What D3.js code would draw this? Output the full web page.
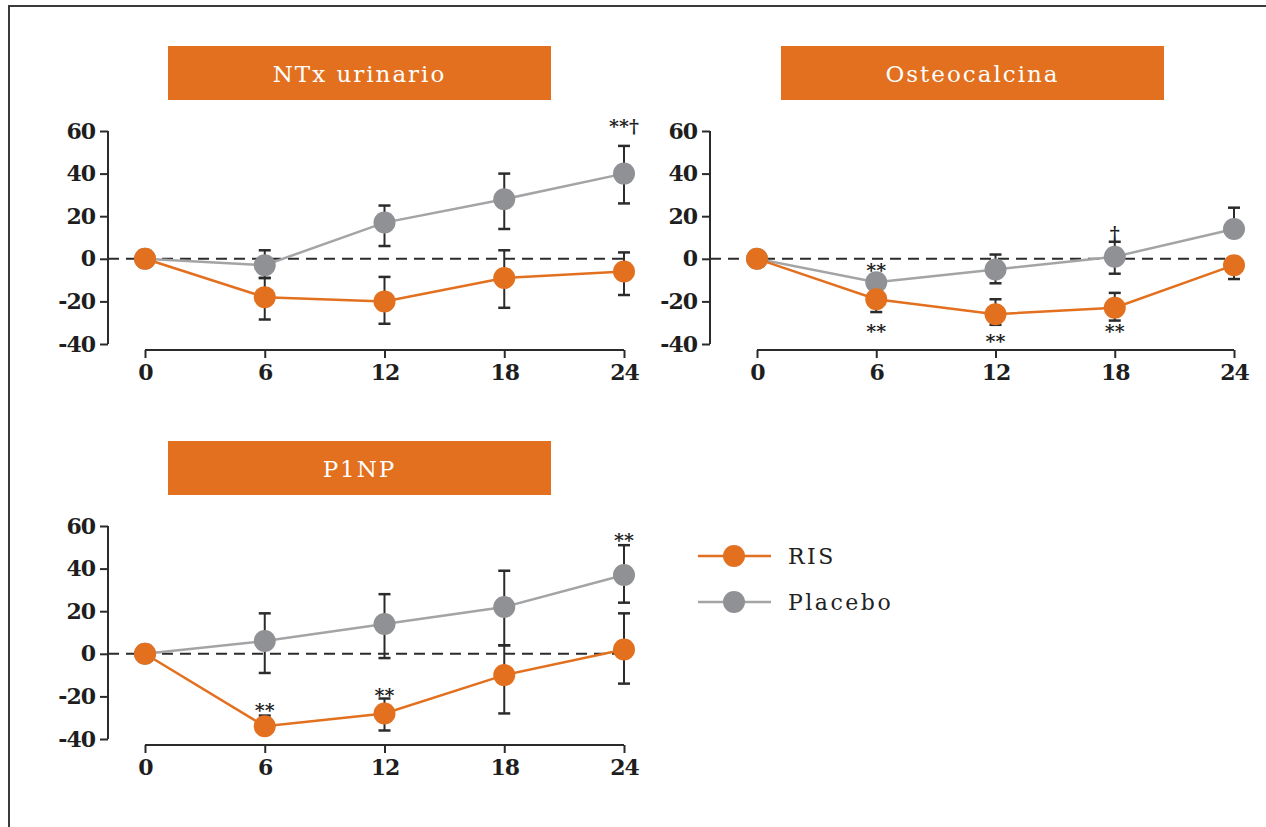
<!DOCTYPE html>
<html>
<head>
<meta charset="utf-8">
<script src="https://cdn.jsdelivr.net/npm/d3@7"></script>
<style>
  html, body { margin: 0; padding: 0; background: #fff; }
  svg { display: block; }
</style>
</head>
<body>
<script>
// Months of follow-up
const months = [0, 6, 12, 18, 24];
const yTicks = [-40, -20, 0, 20, 40, 60];

// NTx urinario (% change)
const ntxRis = [0, -18, -20, -9, -6];
const ntxRisUp = [0, 9, 11.5, 13, 9];
const ntxRisDown = [0, 10.5, 10.5, 14, 11];
const ntxPlacebo = [0, -3, 17, 28, 40];
const ntxPlaceboUp = [0, 7, 8, 12, 13];
const ntxPlaceboDown = [0, 6, 11, 14, 14];
const ntxNotes = [{ m: 24, v: 64.5, t: "**\u2020" }];

// Osteocalcina (% change)
const ostRis = [0, -19, -26, -23, -3];
const ostRisUp = [0, 0, 7, 7, 0];
const ostRisDown = [0, 6, 5, 6, 6.5];
const ostPlacebo = [0, -11, -5, 1, 14];
const ostPlaceboUp = [0, 0, 7, 7, 10];
const ostPlaceboDown = [0, 0, 6.5, 8, 0];
const ostNotes = [
  { m: 6, v: -3, t: "**" },
  { m: 6, v: -32, t: "**" },
  { m: 12, v: -36.5, t: "**" },
  { m: 18, v: -32, t: "**" },
  { m: 18, v: 14, t: "\u2020" }
];

// P1NP (% change)
const pnpRis = [0, -34, -28, -10, 2];
const pnpRisUp = [0, 5, 7, 14, 17];
const pnpRisDown = [0, 0, 8, 18, 16];
const pnpPlacebo = [0, 6, 14, 22, 37];
const pnpPlaceboUp = [0, 13, 14, 17, 14];
const pnpPlaceboDown = [0, 15, 16, 18, 13];
const pnpNotes = [
  { m: 6, v: -24.5, t: "**" },
  { m: 12, v: -17.5, t: "**" },
  { m: 24, v: 55.5, t: "**" }
];

const seriesNames = ["RIS", "Placebo"];

const ORANGE = "#e2701f";
const GRAY_DOT = "#8f9195";
const GRAY_LINE = "#a3a4a6";
const DARK = "#2b2b2b";
const SERIF = "'DejaVu Serif', serif";

const W = 1266, H = 827;
const svg = d3.select("body").append("svg")
  .attr("width", W).attr("height", H);

// outer frame
svg.append("rect")
  .attr("x", 9).attr("y", 6)
  .attr("width", W + 10).attr("height", H + 10)
  .attr("fill", "none").attr("stroke", "#3a3a3a").attr("stroke-width", 2);

function panel(opts) {
  const { title, barX, barY, axisX, x0, x1, yTop, yBot, xAxisY,
          ris, risUp, risDown, plc, plcUp, plcDown, notes } = opts;

  // title bar
  svg.append("rect")
    .attr("x", barX).attr("y", barY).attr("width", 383).attr("height", 54)
    .attr("fill", ORANGE);
  svg.append("text")
    .attr("x", barX + 191.5).attr("y", barY + 36)
    .attr("text-anchor", "middle")
    .attr("fill", "#fff")
    .style("font-family", SERIF)
    .style("font-size", "23px")
    .style("font-weight", "300")
    .style("letter-spacing", "2px")
    .text(title);

  const x = d3.scaleLinear().domain([0, 24]).range([x0, x1]);
  const y = d3.scaleLinear().domain([-40, 60]).range([yBot, yTop]);

  const g = svg.append("g");

  // y axis
  const yAxis = d3.axisLeft(y).tickValues(yTicks).tickSize(8).tickPadding(5)
    .tickFormat(d => d < 0 ? "-" + Math.abs(d) : d);
  const ya = g.append("g").attr("transform", `translate(${axisX},0)`).call(yAxis);
  ya.select(".domain").attr("d", `M0,${y(60)}V${y(-40)}`);

  // x axis
  const xAxis = d3.axisBottom(x).tickValues(months).tickSize(8).tickPadding(6);
  const xa = g.append("g").attr("transform", `translate(0,${xAxisY})`).call(xAxis);
  xa.select(".domain").attr("d", `M${x(0)},0H${x(24)}`);

  [ya, xa].forEach(a => {
    a.selectAll("path, line").attr("stroke", DARK).attr("stroke-width", 2);
    a.selectAll("text")
      .attr("fill", "#1e1e1e")
      .style("font-family", SERIF)
      .style("font-weight", "bold")
      .style("font-size", "22px")
      .style("letter-spacing", "-1px");
  });

  // zero reference line
  g.append("line")
    .attr("x1", axisX).attr("x2", x(24))
    .attr("y1", y(0)).attr("y2", y(0))
    .attr("stroke", DARK).attr("stroke-width", 2)
    .attr("stroke-dasharray", "11,7");

  const sets = [
    { vals: plc, up: plcUp, down: plcDown, line: GRAY_LINE, dot: GRAY_DOT },
    { vals: ris, up: risUp, down: risDown, line: ORANGE, dot: ORANGE }
  ];

  // error bars
  sets.forEach(s => {
    months.forEach((m, i) => {
      const v = s.vals[i];
      [[s.up[i], 1], [s.down[i], -1]].forEach(([e, dir]) => {
        if (!e) return;
        const end = v + dir * e;
        g.append("line")
          .attr("x1", x(m)).attr("x2", x(m))
          .attr("y1", y(v)).attr("y2", y(end))
          .attr("stroke", DARK).attr("stroke-width", 2);
        g.append("line")
          .attr("x1", x(m) - 6).attr("x2", x(m) + 6)
          .attr("y1", y(end)).attr("y2", y(end))
          .attr("stroke", DARK).attr("stroke-width", 2.5);
      });
    });
  });

  // lines and markers
  const lineGen = d3.line().x((d, i) => x(months[i])).y(d => y(d));
  sets.forEach(s => {
    g.append("path").datum(s.vals)
      .attr("d", lineGen)
      .attr("fill", "none").attr("stroke", s.line).attr("stroke-width", 2.5);
  });
  sets.forEach(s => {
    g.selectAll(null).data(s.vals).enter().append("circle")
      .attr("cx", (d, i) => x(months[i])).attr("cy", d => y(d))
      .attr("r", 11).attr("fill", s.dot);
  });

  // significance marks
  g.selectAll(null).data(notes).enter().append("text")
    .attr("x", d => x(d.m)).attr("y", d => y(d.v))
    .attr("dy", "0.6em")
    .attr("text-anchor", "middle")
    .attr("fill", "#1e1e1e")
    .style("font-family", SERIF)
    .style("font-weight", "bold")
    .style("font-size", "19px")
    .text(d => d.t);
}

panel({
  title: "NTx urinario", barX: 168, barY: 46,
  axisX: 108, x0: 145, x1: 624, yTop: 131, yBot: 344, xAxisY: 350,
  ris: ntxRis, risUp: ntxRisUp, risDown: ntxRisDown,
  plc: ntxPlacebo, plcUp: ntxPlaceboUp, plcDown: ntxPlaceboDown, notes: ntxNotes
});
panel({
  title: "Osteocalcina", barX: 781, barY: 46,
  axisX: 710, x0: 757, x1: 1234, yTop: 131, yBot: 344, xAxisY: 350,
  ris: ostRis, risUp: ostRisUp, risDown: ostRisDown,
  plc: ostPlacebo, plcUp: ostPlaceboUp, plcDown: ostPlaceboDown, notes: ostNotes
});
panel({
  title: "P1NP", barX: 168, barY: 441,
  axisX: 108, x0: 145, x1: 624, yTop: 526, yBot: 739, xAxisY: 745,
  ris: pnpRis, risUp: pnpRisUp, risDown: pnpRisDown,
  plc: pnpPlacebo, plcUp: pnpPlaceboUp, plcDown: pnpPlaceboDown, notes: pnpNotes
});

// legend
const legend = svg.append("g");
const legendItems = [
  { name: seriesNames[0], line: ORANGE, dot: ORANGE, y: 556 },
  { name: seriesNames[1], line: GRAY_LINE, dot: GRAY_DOT, y: 602 }
];
legendItems.forEach(it => {
  legend.append("line")
    .attr("x1", 698).attr("x2", 771).attr("y1", it.y).attr("y2", it.y)
    .attr("stroke", it.line).attr("stroke-width", 2.5);
  legend.append("circle")
    .attr("cx", 734).attr("cy", it.y).attr("r", 11).attr("fill", it.dot);
  legend.append("text")
    .attr("x", 788).attr("y", it.y + 8)
    .attr("fill", "#222")
    .style("font-family", SERIF)
    .style("font-size", "22px")
    .style("letter-spacing", "2.5px")
    .text(it.name);
});
</script>
</body>
</html>
